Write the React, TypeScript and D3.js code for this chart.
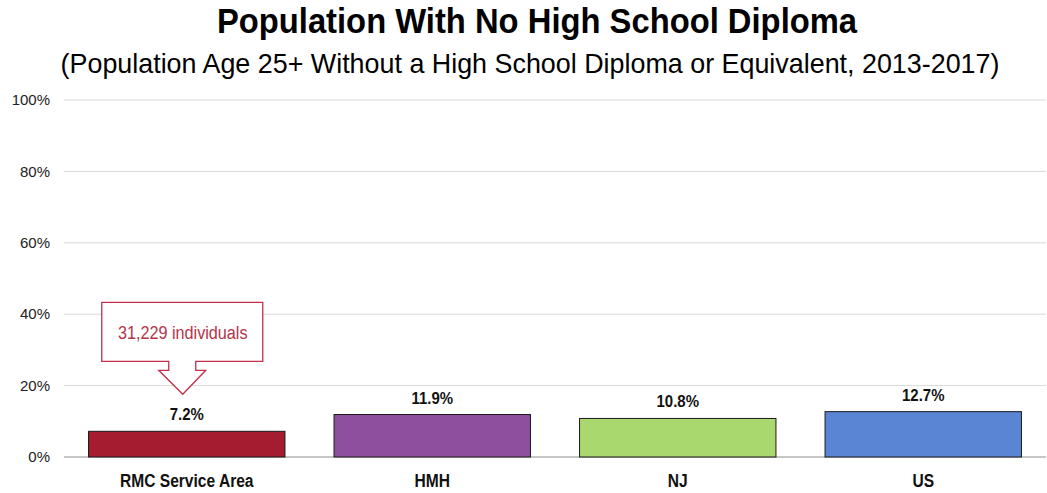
import { scaleBand, scaleLinear } from "d3";
import type { ReactNode } from "react";

const CATEGORIES = ["RMC Service Area", "HMH", "NJ", "US"];
const VALUES = [7.2, 11.9, 10.8, 12.7];
const COLORS = ["#A51C30", "#8E509E", "#A9D86E", "#5A84D4"];
const Y_TICKS = [0, 20, 40, 60, 80, 100];
const TITLE = "Population With No High School Diploma";
const SUBTITLE = "(Population Age 25+ Without a High School Diploma or Equivalent, 2013-2017)";
const CALLOUT = "31,229 individuals";

const WIDTH = 1047;
const HEIGHT = 493;
const MARGIN = { top: 100, right: 1, bottom: 36, left: 64 };
const FONT = "'Liberation Sans', Arial, sans-serif";

// Liberation Sans squeezed sideways, to look like the narrow face of the original
function NarrowText(props: {
  x: number;
  y: number;
  sx: number;
  size: number;
  bold?: boolean;
  fill: string;
  children: ReactNode;
}) {
  return (
    <g transform={`translate(${props.x},${props.y}) scale(${props.sx},1)`}>
      <text
        textAnchor="middle"
        fontFamily={FONT}
        fontWeight={props.bold ? "bold" : "normal"}
        fontSize={props.size}
        fill={props.fill}
      >
        {props.children}
      </text>
    </g>
  );
}

export default function App() {
  const innerWidth = WIDTH - MARGIN.left - MARGIN.right;
  const innerHeight = HEIGHT - MARGIN.top - MARGIN.bottom;

  const x = scaleBand<string>()
    .domain(CATEGORIES)
    .range([0, innerWidth])
    .paddingInner(0.2)
    .paddingOuter(0.1);

  const y = scaleLinear().domain([0, 100]).range([innerHeight, 0]);

  // callout sits above the first bar
  const cx = x(CATEGORIES[0])! + x.bandwidth() / 2 - 4;
  const tipY = y(VALUES[0]) - 37;
  const boxBottom = tipY - 33;
  const boxTop = boxBottom - 59;
  const calloutPath = [
    `M${cx - 81},${boxTop}`,
    `H${cx + 80}`,
    `V${boxBottom}`,
    `H${cx + 13}`,
    `V${boxBottom + 9}`,
    `H${cx + 23}`,
    `L${cx},${tipY}`,
    `L${cx - 24},${boxBottom + 9}`,
    `H${cx - 14}`,
    `V${boxBottom}`,
    `H${cx - 81}`,
    "Z",
  ].join(" ");

  return (
    <svg width={WIDTH} height={HEIGHT} style={{ display: "block", position: "absolute", left: 0, top: 0 }}>
      <rect width={WIDTH} height={HEIGHT} fill="white" />
      <NarrowText x={537} y={33} sx={0.95} size={34.5} bold fill="#000">
        {TITLE}
      </NarrowText>
      <NarrowText x={530} y={73} sx={0.96} size={28} fill="#000">
        {SUBTITLE}
      </NarrowText>

      <g transform={`translate(${MARGIN.left},${MARGIN.top})`}>
        {/* grid */}
        {Y_TICKS.map(t => (
          <g key={t} transform={`translate(0,${y(t)})`}>
            <line x1={0} x2={innerWidth} stroke={t === 0 ? "#8c8c8c" : "#d9d9d9"} strokeWidth={1} />
            <text x={-14} dy="0.35em" textAnchor="end" fontFamily={FONT} fontSize={15} fill="#222">
              {t}%
            </text>
          </g>
        ))}

        {/* bars */}
        {CATEGORIES.map((c, i) => (
          <g key={c}>
            <rect
              x={x(c)}
              y={y(VALUES[i])}
              width={x.bandwidth()}
              height={y(0) - y(VALUES[i])}
              fill={COLORS[i]}
              stroke="#1a1a1a"
              strokeWidth={1}
            />
            <NarrowText
              x={x(c)! + x.bandwidth() / 2}
              y={y(VALUES[i]) - 11}
              sx={0.88}
              size={17}
              bold
              fill="#111"
            >
              {VALUES[i].toFixed(1)}%
            </NarrowText>
            <NarrowText
              x={x(c)! + x.bandwidth() / 2}
              y={innerHeight + 30}
              sx={0.82}
              size={19}
              bold
              fill="#111"
            >
              {c}
            </NarrowText>
          </g>
        ))}

        {/* callout */}
        <path d={calloutPath} fill="white" stroke="#C0304A" strokeWidth={1.3} />
        <NarrowText x={cx} y={boxTop + 37} sx={0.9} size={18} fill="#B5334A">
          {CALLOUT}
        </NarrowText>
      </g>
    </svg>
  );
}
